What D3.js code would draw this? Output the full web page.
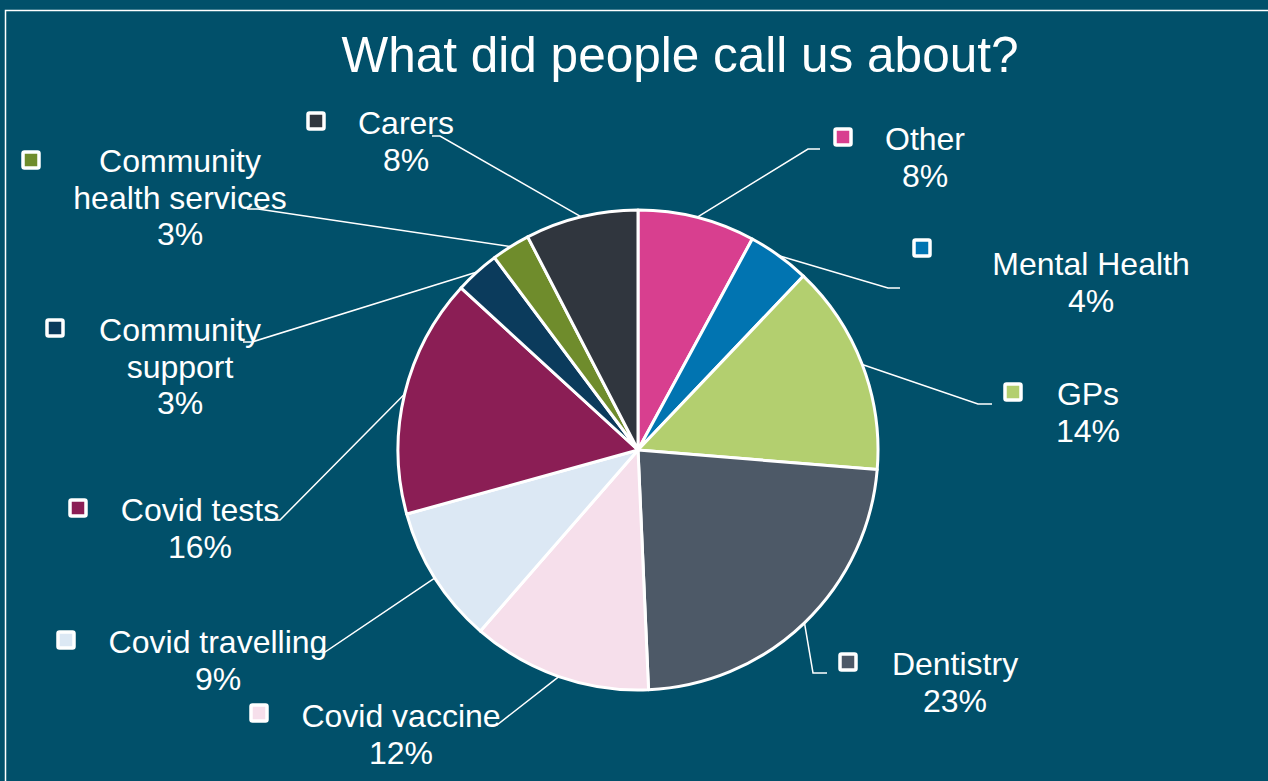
<!DOCTYPE html>
<html>
<head>
<meta charset="utf-8">
<script src="https://cdn.jsdelivr.net/npm/d3@7"></script>
<style>
  body { margin: 0; background: #01506a; }
  svg { display: block; font-family: "Liberation Sans", Arial, sans-serif; }
</style>
</head>
<body>
<div id="chart"></div>
<script>
// data (percent of calls)
var categories = ["Other", "Mental Health", "GPs", "Dentistry", "Covid vaccine",
  "Covid travelling", "Covid tests", "Community support", "Community health services", "Carers"];
var values = [7.9, 4.2, 14.2, 23.0, 12.1, 9.3, 16.1, 3.0, 2.6, 7.6];
var colors = ["#d83f8f", "#0174b1", "#b3cf6f", "#4d5967", "#f6dfeb",
  "#dce8f4", "#8b1e55", "#0b3b5c", "#6f8c2c", "#30363e"];

// label layout: text lines, marker centre, text centre/first baseline, elbow of leader, end of leader
var labelLayout = [
  {lines: ["Other"], mx: 843, my: 137, tx: 925, ty: 150, ex: 808, ey: 149, hx: 820},
  {lines: ["Mental Health"], mx: 922, my: 248, tx: 1091, ty: 275, ex: 888, ey: 288, hx: 900},
  {lines: ["GPs"], mx: 1013, my: 392, tx: 1088, ty: 405, ex: 978, ey: 404, hx: 992},
  {lines: ["Dentistry"], mx: 848, my: 662, tx: 955, ty: 675, ex: 813, ey: 673, hx: 827},
  {lines: ["Covid vaccine"], mx: 259, my: 713, tx: 401, ty: 727, ex: 497, ey: 725, hx: 487},
  {lines: ["Covid travelling"], mx: 66, my: 640, tx: 218, ty: 653, ex: 325, ey: 652, hx: 312},
  {lines: ["Covid tests"], mx: 78, my: 508, tx: 200, ty: 521, ex: 280, ey: 520, hx: 265},
  {lines: ["Community", "support"], mx: 55, my: 328, tx: 180, ty: 341, ex: 252, ey: 342, hx: 243},
  {lines: ["Community", "health services"], mx: 31, my: 160, tx: 180, ty: 172, ex: 258, ey: 209, hx: 247},
  {lines: ["Carers"], mx: 316, my: 121, tx: 406, ty: 134, ex: 440, ey: 136, hx: 432}
];

var svgWidth = 1268;
var svgHeight = 781;
var cx = 638, cy = 450, radius = 240;
var lineGap = 36.5;

var svg = d3.select("#chart")
  .append("svg")
  .attr("width", svgWidth)
  .attr("height", svgHeight);

svg.append("rect")
  .attr("width", svgWidth)
  .attr("height", svgHeight)
  .attr("fill", "#01506a");

// outer frame
svg.append("rect")
  .attr("x", 5.5)
  .attr("y", 10.5)
  .attr("width", 1270)
  .attr("height", 790)
  .attr("fill", "none")
  .attr("stroke", "#ffffff")
  .attr("stroke-width", 1.5);

svg.append("text")
  .attr("x", 680)
  .attr("y", 72)
  .attr("text-anchor", "middle")
  .attr("font-size", "49.5px")
  .attr("fill", "#ffffff")
  .text("What did people call us about?");

var data = categories.map(function(c, i) {
  return {name: c, value: values[i], color: colors[i], layout: labelLayout[i]};
});

var total = d3.sum(values);

var pie = d3.pie()
  .value(d => d.value)
  .sort(null);

var arc = d3.arc()
  .innerRadius(0)
  .outerRadius(radius);

var arcs = pie(data);

var chartGroup = svg.append("g")
  .attr("transform", `translate(${cx}, ${cy})`);

chartGroup.selectAll("path.slice")
  .data(arcs)
  .enter()
  .append("path")
  .attr("class", "slice")
  .attr("d", arc)
  .attr("fill", d => d.data.color)
  .attr("stroke", "#ffffff")
  .attr("stroke-width", 3)
  .attr("stroke-linejoin", "round");

// leader lines
svg.selectAll("polyline.leader")
  .data(arcs)
  .enter()
  .append("polyline")
  .attr("class", "leader")
  .attr("points", function(d) {
    var a = (d.startAngle + d.endAngle) / 2;
    var sx = cx + radius * Math.sin(a);
    var sy = cy - radius * Math.cos(a);
    var L = d.data.layout;
    return [[sx, sy], [L.ex, L.ey], [L.hx, L.ey]].map(p => p.join(",")).join(" ");
  })
  .attr("fill", "none")
  .attr("stroke", "#ffffff")
  .attr("stroke-width", 1.5);

// legend keys
svg.selectAll("rect.key")
  .data(data)
  .enter()
  .append("rect")
  .attr("class", "key")
  .attr("x", d => d.layout.mx - 8)
  .attr("y", d => d.layout.my - 8)
  .attr("width", 16)
  .attr("height", 16)
  .attr("rx", 1.5)
  .attr("fill", d => d.color)
  .attr("stroke", "#ffffff")
  .attr("stroke-width", 3.5);

// labels
var labels = svg.selectAll("text.label")
  .data(data)
  .enter()
  .append("text")
  .attr("class", "label")
  .attr("text-anchor", "middle")
  .attr("font-size", "32px")
  .attr("fill", "#ffffff");

labels.each(function(d) {
  var t = d3.select(this);
  var lines = d.layout.lines.concat([Math.round(d.value / total * 100) + "%"]);
  lines.forEach(function(line, i) {
    t.append("tspan")
      .attr("x", d.layout.tx)
      .attr("y", d.layout.ty + i * lineGap)
      .text(line);
  });
});
</script>
</body>
</html>
